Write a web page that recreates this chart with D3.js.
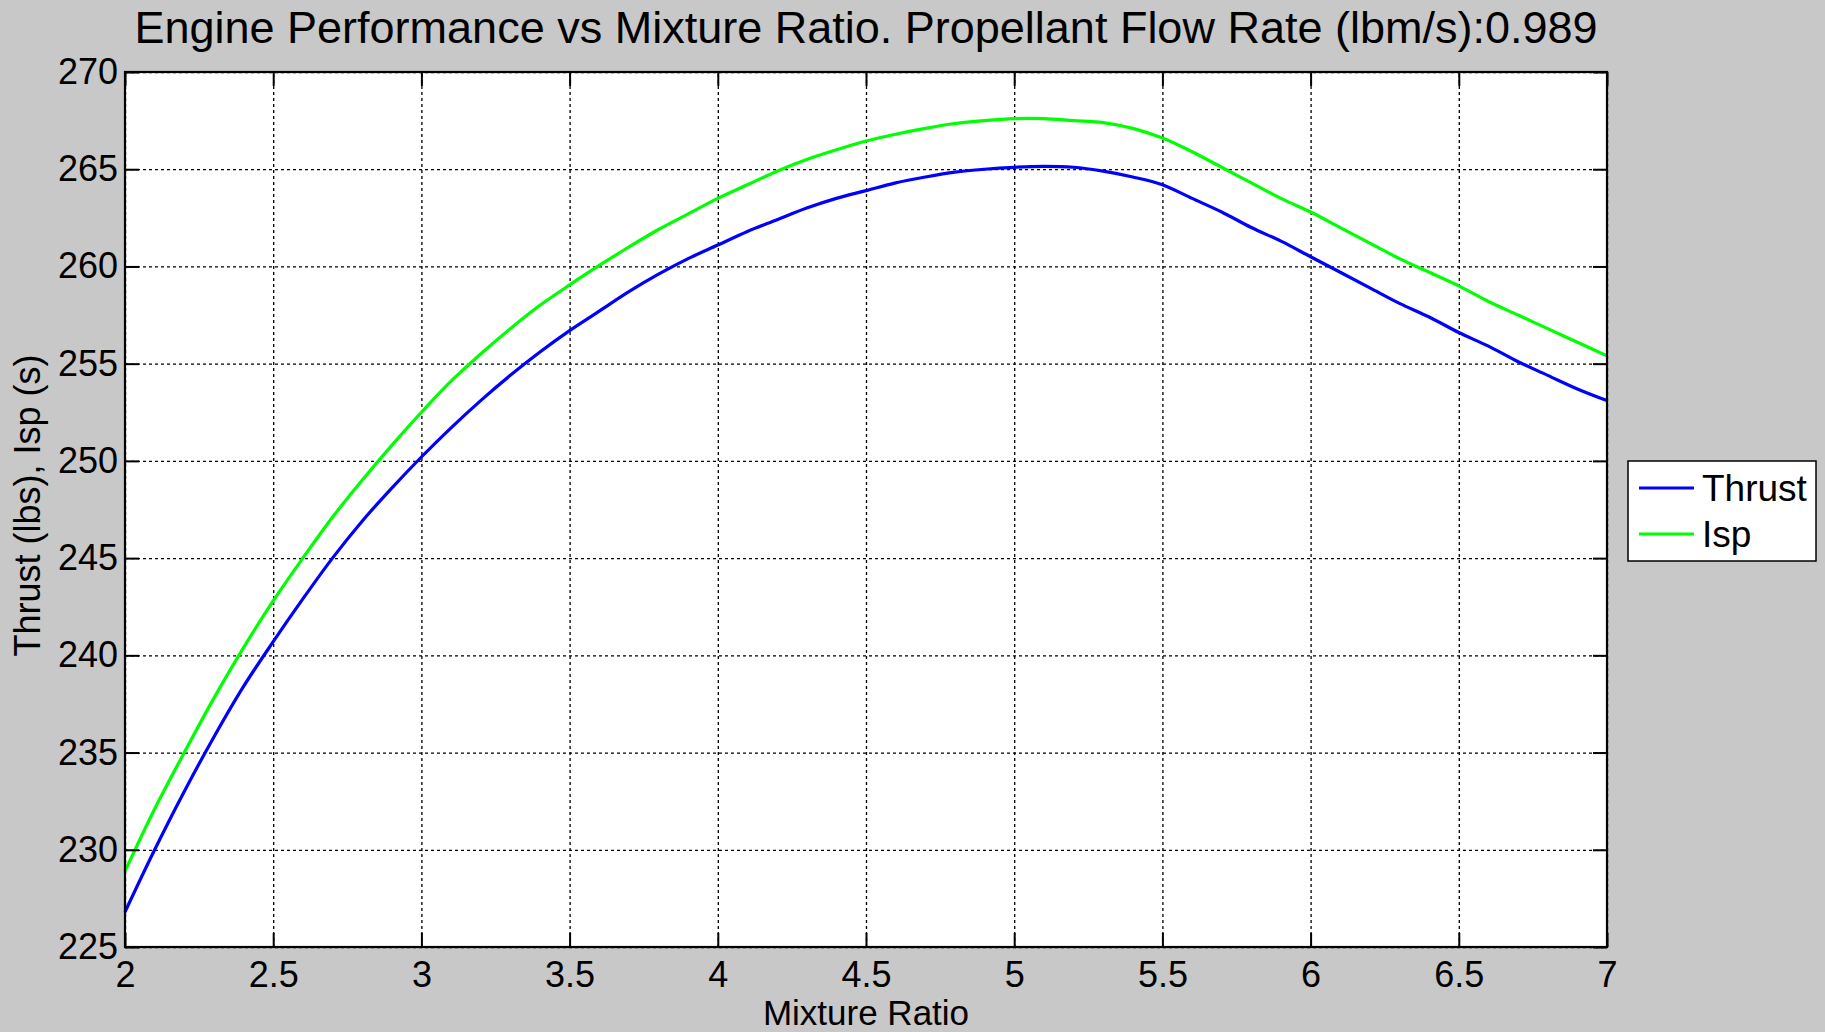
<!DOCTYPE html>
<html>
<head>
<meta charset="utf-8">
<script src="https://cdn.jsdelivr.net/npm/d3@7"></script>
<style>
  html, body { margin: 0; padding: 0; background: #c8c8c8; }
  svg { display: block; }
  text { font-family: "Liberation Sans", Arial, sans-serif; fill: #000; }
</style>
</head>
<body>
<svg id="chart" width="1825" height="1032"></svg>
<script>
const mixtureRatio = [2.0,2.1,2.2,2.3,2.4,2.5,2.6,2.7,2.8,2.9,3.0,3.1,3.2,3.3,3.4,3.5,3.6,3.7,3.8,3.9,4.0,4.1,4.2,4.3,4.4,4.5,4.6,4.7,4.8,4.9,5.0,5.1,5.2,5.3,5.4,5.5,5.6,5.7,5.8,5.9,6.0,6.1,6.2,6.3,6.4,6.5,6.6,6.7,6.8,6.9,7.0];
const thrust = [226.8,230.0,233.0,235.8,238.4,240.7,242.9,245.0,246.9,248.6,250.2,251.7,253.1,254.4,255.6,256.7,257.7,258.7,259.6,260.4,261.1,261.8,262.4,263.0,263.5,263.9,264.3,264.6,264.85,265.0,265.1,265.15,265.1,264.9,264.6,264.2,263.5,262.8,262.0,261.3,260.5,259.7,258.9,258.1,257.4,256.6,255.9,255.1,254.4,253.7,253.1];
const isp = [228.9,232.1,235.0,237.8,240.4,242.8,245.0,247.1,249.0,250.8,252.5,254.1,255.5,256.8,258.0,259.05,260.05,261.0,261.9,262.7,263.5,264.2,264.9,265.5,266.0,266.45,266.8,267.1,267.35,267.5,267.6,267.6,267.5,267.4,267.1,266.6,265.9,265.1,264.3,263.5,262.8,262.0,261.2,260.4,259.7,259.0,258.2,257.5,256.8,256.1,255.4];
const xTicks = [2,2.5,3,3.5,4,4.5,5,5.5,6,6.5,7];
const yTicks = [225,230,235,240,245,250,255,260,265,270];
const seriesNames = ["Thrust","Isp"];
const seriesColors = ["#0000ff","#00ff00"];
const titleText = "Engine Performance vs Mixture Ratio. Propellant Flow Rate (lbm/s):0.989";
const xLabel = "Mixture Ratio";
const yLabel = "Thrust (lbs), Isp (s)";

const svg = d3.select("#chart");
const W = 1825, H = 1032;
const m = {left:125, right:1607, top:72, bottom:947};
const pw = m.right - m.left, ph = m.bottom - m.top;

svg.append("rect").attr("width",W).attr("height",H).attr("fill","#c8c8c8");

const x = d3.scaleLinear().domain([2,7]).range([m.left, m.right]);
const y = d3.scaleLinear().domain([225,270]).range([m.bottom, m.top]);

svg.append("rect").attr("x",m.left).attr("y",m.top).attr("width",pw).attr("height",ph).attr("fill","#fff");

// grid
const gx = svg.append("g").attr("transform",`translate(0,${m.bottom})`)
  .call(d3.axisBottom(x).tickValues(xTicks).tickSize(-ph).tickFormat(""));
gx.select(".domain").remove();
gx.selectAll("line").attr("stroke","#000").attr("stroke-width",1.3).attr("stroke-dasharray","3,3");
const gy = svg.append("g").attr("transform",`translate(${m.left},0)`)
  .call(d3.axisLeft(y).tickValues(yTicks).tickSize(-pw).tickFormat(""));
gy.select(".domain").remove();
gy.selectAll("line").attr("stroke","#000").attr("stroke-width",1.3).attr("stroke-dasharray","3,3");

// lines
const data = [thrust, isp];
data.forEach((vals, i) => {
  const line = d3.line().x((d,j)=>x(mixtureRatio[j])).y(d=>y(d)).curve(d3.curveCatmullRom.alpha(0.5));
  svg.append("path").datum(vals).attr("d",line).attr("fill","none")
    .attr("stroke",seriesColors[i]).attr("stroke-width",3.2);
});

// axes with inward ticks
const tl = 14;
function styleAxis(g){
  g.select(".domain").remove();
  g.selectAll(".tick line").attr("stroke","#000").attr("stroke-width",2);
  g.selectAll("text").style("font-family","'Liberation Sans', Arial, sans-serif").style("font-size","36px").attr("fill","#000");
}
const ab = svg.append("g").attr("transform",`translate(0,${m.bottom})`)
  .call(d3.axisBottom(x).tickValues(xTicks).tickSizeInner(-tl).tickSizeOuter(0).tickPadding(14).tickFormat(d3.format("")));
styleAxis(ab);
const at = svg.append("g").attr("transform",`translate(0,${m.top})`)
  .call(d3.axisTop(x).tickValues(xTicks).tickSizeInner(-tl).tickSizeOuter(0).tickFormat(""));
styleAxis(at);
const al = svg.append("g").attr("transform",`translate(${m.left},0)`)
  .call(d3.axisLeft(y).tickValues(yTicks).tickSizeInner(-tl).tickSizeOuter(0).tickPadding(7).tickFormat(d3.format("")));
styleAxis(al);
const ar = svg.append("g").attr("transform",`translate(${m.right},0)`)
  .call(d3.axisRight(y).tickValues(yTicks).tickSizeInner(-tl).tickSizeOuter(0).tickFormat(""));
styleAxis(ar);

// box
svg.append("rect").attr("x",m.left).attr("y",m.top).attr("width",pw).attr("height",ph)
  .attr("fill","none").attr("stroke","#000").attr("stroke-width",2.2);

// title and labels
svg.append("text").attr("x",(m.left+m.right)/2).attr("y",43).attr("text-anchor","middle")
  .style("font-size","45px").text(titleText);
svg.append("text").attr("x",(m.left+m.right)/2).attr("y",1025).attr("text-anchor","middle")
  .style("font-size","35px").text(xLabel);
svg.append("text").attr("transform",`translate(40,${(m.top+m.bottom)/2 - 4}) rotate(-90)`).attr("text-anchor","middle")
  .style("font-size","36px").text(yLabel);

// legend
const lg = svg.append("g");
lg.append("rect").attr("x",1628).attr("y",461).attr("width",188).attr("height",100)
  .attr("fill","#fff").attr("stroke","#000").attr("stroke-width",1.5);
const legendY = [488, 534];
seriesNames.forEach((n,i)=>{
  lg.append("line").attr("x1",1639).attr("x2",1694).attr("y1",legendY[i]).attr("y2",legendY[i])
    .attr("stroke",seriesColors[i]).attr("stroke-width",3.2);
  lg.append("text").attr("x",1702).attr("y",legendY[i]).attr("dy","0.36em")
    .style("font-size","37px").text(n);
});
</script>
</body>
</html>
